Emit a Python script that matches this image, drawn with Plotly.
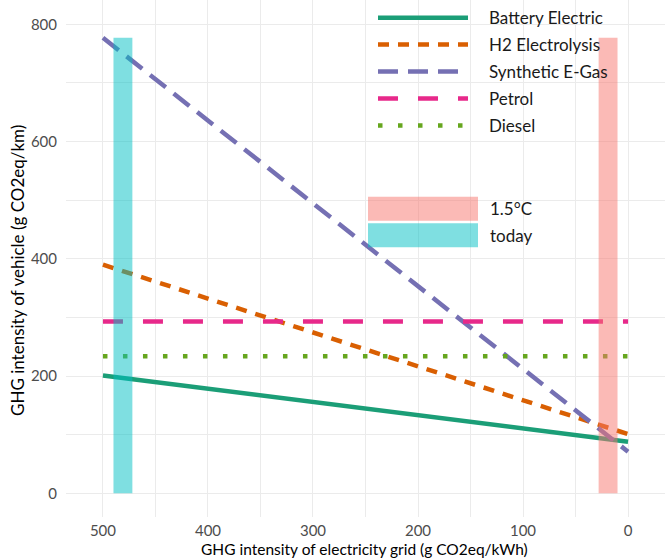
import plotly.graph_objects as go

# ---- data ----
grid_x = [500, 0]
series_names = ["Battery Electric", "H2 Electrolysis", "Synthetic E-Gas", "Petrol", "Diesel"]
battery = [201, 88]
h2 = [390, 101]
egas = [777, 71]
petrol = [293, 293]
diesel = [234, 234]
series_values = [battery, h2, egas, petrol, diesel]

band_names = ["1.5°C", "today"]
band_x0 = [10, 472]
band_x1 = [28, 490]
band_top = [777, 777]

x_ticks = [500, 400, 300, 200, 100, 0]
y_ticks = [0, 200, 400, 600, 800]

# ---- styles ----
colors = ["#1B9E77", "#D95F02", "#7570B3", "#E7298A", "#66A61E"]
dashes = ["solid", "11px,9px", "20px,10px", "20px,20px", "4.5px,15.5px"]
band_colors = ["#F8766D", "#00BFC4"]
LW = 4.5

W, H = 665, 560
ML, MR, MT, MB = 66, 0, 0, 43
PW, PH = W - ML - MR, H - MT - MB


def px2paper(px, py):
    return (px - ML) / PW, 1 - (py - MT) / PH


fig = go.Figure()
for name, vals, c, d in zip(series_names, series_values, colors, dashes):
    fig.add_trace(go.Scatter(x=grid_x, y=vals, mode="lines", name=name,
                             line=dict(color=c, width=LW, dash=d),
                             showlegend=False))

shapes = []
for x0, x1, top, c in zip(band_x0, band_x1, band_top, band_colors):
    shapes.append(dict(type="rect", xref="x", yref="y", x0=x0, x1=x1, y0=0, y1=top,
                       fillcolor=c, opacity=0.5, line=dict(width=0), layer="above"))

annotations = []
LEG_FONT = dict(size=17, color="#1a1a1a", family="Lato")
# custom legend for lines
row_y = [17.7, 44.5, 71.5, 98.5, 125.5]
for name, c, d, ry in zip(series_names, colors, dashes, row_y):
    ax0, ay = px2paper(378, ry)
    ax1, _ = px2paper(468, ry)
    shapes.append(dict(type="line", xref="paper", yref="paper", x0=ax0, x1=ax1, y0=ay, y1=ay,
                       line=dict(color=c, width=LW, dash=d), layer="above"))
    tx, ty = px2paper(487, ry)
    annotations.append(dict(x=tx, y=ty, xref="paper", yref="paper", text=name, showarrow=False,
                            xanchor="left", yanchor="middle", font=LEG_FONT))

# custom legend for bands
box_rows = [(196.7, 220.7), (223.3, 247.3)]
for name, c, (y0p, y1p) in zip(band_names, band_colors, box_rows):
    bx0, by0 = px2paper(368, y1p)
    bx1, by1 = px2paper(478, y0p)
    shapes.append(dict(type="rect", xref="paper", yref="paper", x0=bx0, x1=bx1, y0=by0, y1=by1,
                       fillcolor=c, opacity=0.5, line=dict(width=0), layer="above"))
    tx, ty = px2paper(488, (y0p + y1p) / 2)
    annotations.append(dict(x=tx, y=ty, xref="paper", yref="paper", text=name, showarrow=False,
                            xanchor="left", yanchor="middle", font=LEG_FONT))

# axis titles
tx, ty = px2paper(364, 549)
annotations.append(dict(x=tx, y=ty, xref="paper", yref="paper",
                        text="GHG intensity of electricity grid (g CO2eq/kWh)", showarrow=False,
                        xanchor="center", yanchor="middle",
                        font=dict(size=15.5, color="#000000", family="Lato")))
tx, ty = px2paper(17, 271)
annotations.append(dict(x=tx, y=ty, xref="paper", yref="paper",
                        text="GHG intensity of vehicle (g CO2eq/km)", showarrow=False,
                        xanchor="center", yanchor="middle", textangle=-90,
                        font=dict(size=17, color="#000000", family="Lato")))

grid_col = "#EBEBEB"
fig.update_layout(
    width=W, height=H,
    margin=dict(l=ML, r=MR, t=MT, b=MB),
    paper_bgcolor="white", plot_bgcolor="white",
    font=dict(family="Lato", size=15, color="#4D4D4D"),
    shapes=shapes, annotations=annotations,
    showlegend=False,
    xaxis=dict(range=[535.2, -35.2], tickvals=x_ticks, ticktext=[str(v) for v in x_ticks],
               automargin=False,
               showgrid=True, gridcolor=grid_col, gridwidth=1.1,
               minor=dict(tickvals=[450, 350, 250, 150, 50], showgrid=True, gridcolor=grid_col, gridwidth=0.6),
               zeroline=False, showline=False, ticks="", ticklabelstandoff=3,
               tickfont=dict(size=15, color="#4D4D4D")),
    yaxis=dict(range=[-40.4, 841.5], tickvals=y_ticks, ticktext=[str(v) for v in y_ticks],
               automargin=False,
               showgrid=True, gridcolor=grid_col, gridwidth=1.1,
               minor=dict(tickvals=[100, 300, 500, 700], showgrid=True, gridcolor=grid_col, gridwidth=0.6),
               zeroline=False, showline=False, ticks="", ticklabelstandoff=8,
               tickfont=dict(size=15, color="#4D4D4D")),
)

fig.write_html("out.html", config={"displayModeBar": False},
               post_script="document.body.style.margin='0';document.body.style.overflow='hidden';")
